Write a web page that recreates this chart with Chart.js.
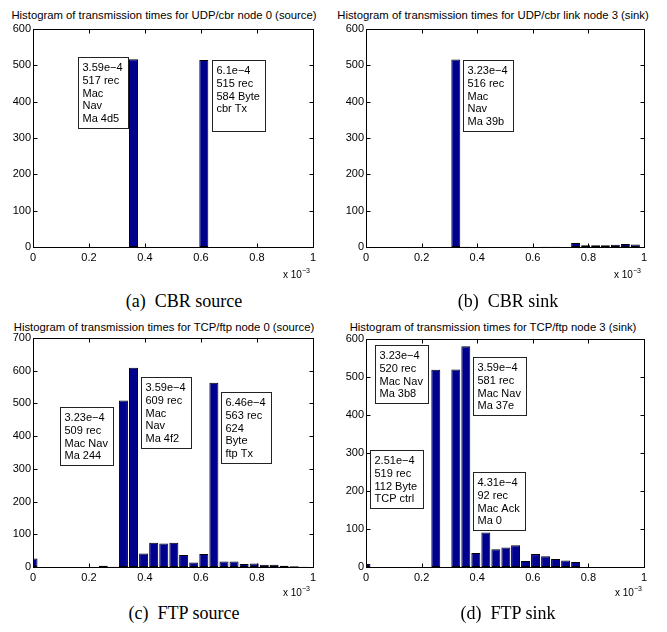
<!DOCTYPE html>
<html><head><meta charset="utf-8">
<script src="https://cdn.jsdelivr.net/npm/chart.js@4.4.1/dist/chart.umd.min.js"></script>
<style>
html,body{margin:0;padding:0;background:#fff;}
#wrap{position:relative;width:667px;height:632px;overflow:hidden;font-family:"Liberation Sans",Arial,sans-serif;color:#000;}
canvas{position:absolute;}
.title{position:absolute;font-size:11.3px;white-space:nowrap;transform:translate(-50%,-50%);}
.cap{position:absolute;font-family:"Liberation Serif","Times New Roman",serif;font-size:18px;white-space:pre;transform:translate(-50%,-50%);}
.exp{position:absolute;font-size:10px;white-space:nowrap;line-height:10px;}
.exp sup{font-size:7px;vertical-align:top;position:relative;top:-4px;}
</style></head>
<body><div id="wrap">
<div class="title" style="left:164px;top:15px">Histogram of transmission times for UDP/cbr node 0 (source)</div>
<div class="title" style="left:493px;top:15px">Histogram of transmission times for UDP/cbr link node 3 (sink)</div>
<div class="title" style="left:164px;top:327px">Histogram of transmission times for TCP/ftp node 0 (source)</div>
<div class="title" style="left:493px;top:327px">Histogram of transmission times for TCP/ftp node 3 (sink)</div>
<canvas id="ca" width="330" height="252" style="left:0px;top:20px"></canvas>
<canvas id="cb" width="330" height="252" style="left:333px;top:20px"></canvas>
<canvas id="cc" width="330" height="263" style="left:0px;top:329px"></canvas>
<canvas id="cd" width="330" height="262" style="left:333px;top:330px"></canvas>
<div class="exp" style="left:283px;top:270px">x 10<sup>−3</sup></div>
<div class="exp" style="left:614px;top:270px">x 10<sup>−3</sup></div>
<div class="exp" style="left:283px;top:588px">x 10<sup>−3</sup></div>
<div class="exp" style="left:615px;top:588px">x 10<sup>−3</sup></div>
<div class="cap" style="left:184px;top:301px">(a)  CBR source</div>
<div class="cap" style="left:508px;top:301px">(b)  CBR sink</div>
<div class="cap" style="left:184px;top:613px">(c)  FTP source</div>
<div class="cap" style="left:508px;top:613px">(d)  FTP sink</div>
</div>
<script>
// bin centres, in units of 1e-3 s
const binCenters = [0.000,0.036,0.072,0.108,0.144,0.180,0.215,0.251,0.287,0.323,0.359,0.395,0.431,0.467,0.503,0.538,0.574,0.610,0.646,0.682,0.718,0.754,0.790,0.826,0.861,0.897,0.933,0.969];

const cbrSourceCounts = [0,0,0,0,0,0,0,0,0,0,517,0,0,0,0,0,0,515,0,0,0,0,0,0,0,0,0,0];
const cbrSinkCounts   = [0,0,0,0,0,0,0,0,0,516,1,0,0,0,0,0,0,0,1,1,0,11,5,5,5,6,8,7];
const ftpSourceCounts = [26,0,0,0,0,0,0,4,1,509,609,41,74,72,74,37,14,40,563,17,17,9,11,7,7,4,2,1];
const ftpSinkCounts   = [8,0,0,0,0,0,0,519,0,520,581,37,91,47,51,57,16,34,28,21,17,13,0,0,0,0,0,0];

const yMaxA = 600, yMaxB = 600, yMaxC = 700, yMaxD = 600;

const notesA = [
  {x:0.161, y:524, lines:['3.59e−4','517 rec','Mac','Nav','Ma 4d5']},
  {x:0.641, y:516, lines:['6.1e−4','515 rec','584 Byte','cbr Tx','']}
];
const notesB = [
  {x:0.350, y:516, lines:['3.23e−4','516 rec','Mac','Nav','Ma 39b']}
];
const notesC = [
  {x:0.096, y:489, lines:['3.23e−4','509 rec','Mac Nav','Ma 244']},
  {x:0.385, y:581, lines:['3.59e−4','609 rec','Mac','Nav','Ma 4f2']},
  {x:0.672, y:535, lines:['6.46e−4','563 rec','624','Byte','ftp Tx']}
];
const notesD = [
  {x:0.033, y:584, lines:['3.23e−4','520 rec','Mac Nav','Ma 3b8']},
  {x:0.384, y:553, lines:['3.59e−4','581 rec','Mac Nav','Ma 37e']},
  {x:0.015, y:307, lines:['2.51e−4','519 rec','112 Byte','TCP ctrl']},
  {x:0.384, y:249, lines:['4.31e−4','92 rec','Mac Ack','Ma 0']}
];

const FONT = '"Liberation Sans", Arial, sans-serif';
Chart.defaults.color = '#000';
Chart.defaults.font.family = FONT;
Chart.defaults.font.size = 11;

const framePlugin = {
  id: 'frameNotes',
  afterDraw(chart) {
    const ctx = chart.ctx, a = chart.chartArea;
    const xs = chart.scales.x, ys = chart.scales.y;
    const L = Math.round(a.left) + 0.5, R = Math.round(a.right) + 0.5;
    const T = Math.round(a.top) + 0.5, B = Math.round(a.bottom) + 0.5;
    ctx.save();
    ctx.strokeStyle = '#000';
    ctx.lineWidth = 1;
    ctx.strokeRect(L, T, R - L, B - T);
    const tl = 4;
    ctx.beginPath();
    xs.ticks.forEach(t => {
      const p = Math.round(xs.getPixelForValue(t.value)) + 0.5;
      ctx.moveTo(p, B); ctx.lineTo(p, B - tl);
      ctx.moveTo(p, T); ctx.lineTo(p, T + tl);
    });
    ys.ticks.forEach(t => {
      const p = Math.round(ys.getPixelForValue(t.value)) + 0.5;
      ctx.moveTo(L, p); ctx.lineTo(L + tl, p);
      ctx.moveTo(R, p); ctx.lineTo(R - tl, p);
    });
    ctx.stroke();
    const notes = chart.options.plugins.frameNotes.notes || [];
    ctx.font = '11px ' + FONT;
    ctx.textBaseline = 'middle';
    ctx.textAlign = 'left';
    const lh = 12.8, pt = 4, pb = 3, pl = 4, pr = 6;
    notes.forEach(n => {
      const x0 = Math.round(xs.getPixelForValue(n.x)) + 0.5;
      const y0 = Math.round(ys.getPixelForValue(n.y)) + 0.5;
      let w = 0;
      n.lines.forEach(s => { w = Math.max(w, ctx.measureText(s).width); });
      const bw = Math.round(w + pl + pr), bh = Math.round(n.lines.length * lh + pt + pb);
      ctx.fillStyle = '#fff';
      ctx.fillRect(x0, y0, bw, bh);
      ctx.strokeStyle = '#222';
      ctx.strokeRect(x0, y0, bw, bh);
      ctx.fillStyle = '#000';
      n.lines.forEach((s, i) => ctx.fillText(s, x0 + pl, y0 + pt + lh * (i + 0.5)));
    });
    ctx.restore();
  }
};

function makeChart(id, counts, yMax, notes, padRight) {
  const data = binCenters.map((c, i) => ({x: c, y: counts[i]}));
  return new Chart(document.getElementById(id), {
    type: 'bar',
    data: { datasets: [{
      data,
      backgroundColor: '#00008F',
      borderColor: '#000',
      borderWidth: 1,
      borderSkipped: false,
      barPercentage: 0.92,
      categoryPercentage: 1.0
    }]},
    options: {
      responsive: false,
      animation: false,
      devicePixelRatio: 1,
      layout: { padding: { left: 0, top: 9, right: padRight, bottom: 0 } },
      plugins: { legend: {display: false}, tooltip: {enabled: false}, title: {display: false},
                 frameNotes: { notes } },
      scales: {
        x: {
          type: 'linear', min: 0, max: 1, offset: false,
          grid: { display: false, drawTicks: false },
          border: { display: false },
          ticks: { stepSize: 0.2, padding: 4, maxRotation: 0, autoSkip: false,
                   callback: v => String(Math.round(v * 10) / 10) },
          afterFit: s => { s.height = 25; }
        },
        y: {
          min: 0, max: yMax,
          grid: { display: false, drawTicks: false },
          border: { display: false },
          ticks: { stepSize: 100, padding: 2 },
          afterFit: s => { s.width = 33; }
        }
      }
    },
    plugins: [framePlugin]
  });
}

makeChart('ca', cbrSourceCounts, yMaxA, notesA, 17);
makeChart('cb', cbrSinkCounts, yMaxB, notesB, 19);
makeChart('cc', ftpSourceCounts, yMaxC, notesC, 17);
makeChart('cd', ftpSinkCounts, yMaxD, notesD, 19);
</script>
</body></html>
